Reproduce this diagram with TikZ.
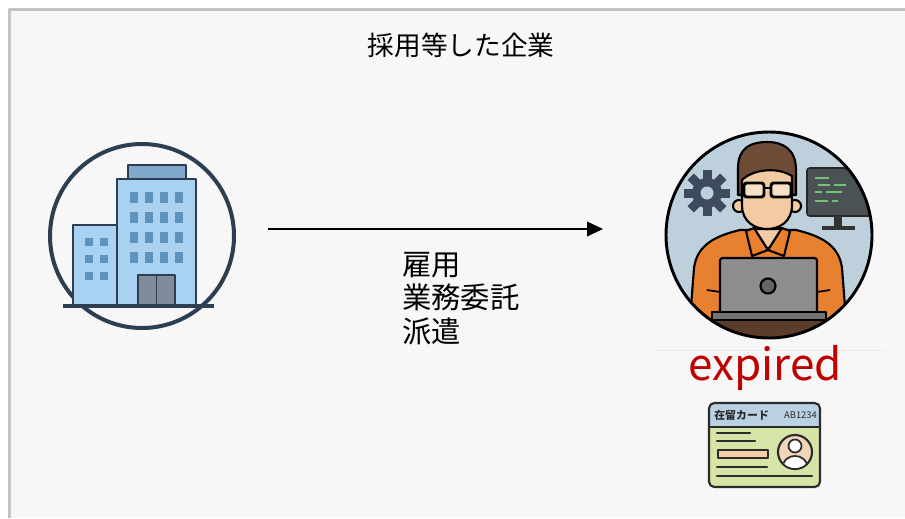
\documentclass[tikz,border=0pt]{standalone}
\usepackage{fontspec}
\setmainfont{Noto Sans CJK JP}
\usetikzlibrary{arrows.meta}
\definecolor{panel}{HTML}{F7F7F7}
\definecolor{rim}{HTML}{C4C4C4}
\definecolor{navy}{HTML}{2C3E50}
\definecolor{towerblue}{HTML}{A9D1F2}
\definecolor{winblue}{HTML}{5E93BD}
\definecolor{capblue}{HTML}{7FA8CB}
\definecolor{doorgray}{HTML}{7F8C99}
\definecolor{sky}{HTML}{BDD0DB}
\definecolor{slate}{HTML}{3E4B5E}
\definecolor{screen}{HTML}{4A5256}
\definecolor{code}{HTML}{74C17A}
\definecolor{hair}{HTML}{6E4B36}
\definecolor{skin}{HTML}{F3CBA3}
\definecolor{shirt}{HTML}{E7812F}
\definecolor{laptop}{HTML}{8D8D8D}
\definecolor{desk}{HTML}{5C3C2B}
\definecolor{alert}{HTML}{C00000}
\definecolor{cardgreen}{HTML}{D6E4A8}
\definecolor{cardblue}{HTML}{BAD1E3}
\definecolor{photo}{HTML}{F1D6BA}
\definecolor{ink}{HTML}{2B2B2B}

\begin{document}
\begin{tikzpicture}[x=0.75pt,y=-0.75pt,line join=round,
    outline/.style={draw=navy,line width=1.6pt},
    window/.style={fill=winblue},
    stroke/.style={draw=black,line width=1.6pt},
    cardline/.style={draw=ink,line width=1.6pt,line cap=round}]
  \useasboundingbox (0,0) rectangle (905,518);
  \fill[white] (0,0) rectangle (905,518);
  \fill[panel] (10,10) rectangle (905,518);
  \draw[rim,line width=2.2pt] (9.5,518) -- (9.5,9.5) -- (905,9.5);

  \node (title) at (461,45) {\fontsize{20}{24}\selectfont 採用等した企業};

  % company: two office blocks inside a ring
  \node[circle,draw=navy,line width=3pt,minimum size=138pt,inner sep=0] (company) at (142,236) {};
  \filldraw[fill=towerblue,outline] (73,225) rectangle (117,306);
  \filldraw[fill=towerblue,outline] (117,179) rectangle (196,306);
  \filldraw[fill=capblue,outline] (128,165) rectangle (186,179);
  \foreach \x in {130,145,160,175}
    \foreach \y in {192,212,232,252}
      \fill[window] (\x,\y) rectangle +(8,11);
  \foreach \x in {85,100}
    \foreach \y in {238,255,272}
      \fill[window] (\x,\y) rectangle +(8,8);
  \filldraw[fill=doorgray,outline] (138,275) rectangle (175,306);
  \draw[navy,line width=1.2pt] (156.5,275) -- (156.5,306);
  \draw[navy,line width=3pt] (63,306) -- (214,306);

  % relation
  \coordinate (from) at (268,229);
  \coordinate (to) at (603,229);
  \draw[line width=1.1pt,-{Triangle[length=12pt,width=11pt]}] (from) -- (to);
  \node[anchor=base west,align=left,inner sep=0,
    font=\fontsize{22}{25}\selectfont] (modes) at (402,342) {雇用\\業務委託\\派遣};

  % worker at a laptop
  \node[circle,fill=sky,minimum size=156pt,inner sep=0] (worker) at (769,235) {};
  \begin{scope}
    \clip (769,235) circle (103);
    % gear
    \fill[slate] (707,193) circle (15);
    \foreach \a in {0,45,...,315}
      \fill[slate,rotate around={\a:(707,193)}] (702.5,170) rectangle (711.5,180);
    \fill[sky] (707,193) circle (6.5);
    % monitor
    \filldraw[fill=screen,draw=black!85,line width=1.2pt,rounded corners=2] (807,168) rectangle (872,216);
    \fill[black!80] (834,216) rectangle (842,226);
    \fill[black!80] (822,226) rectangle (855,230);
    \draw[code,line width=1.3pt] (815,178) -- (829,178) (818,185) -- (830,185) (834,185) -- (846,185)
      (815,192) -- (822,192) (826,192) -- (842,192) (815,201) -- (828,201) (832,201) -- (838,201);
    % body
    \filldraw[fill=shirt,stroke] (688,345) -- (694,268) .. controls (697,245) and (715,236) .. (740,230)
      -- (796,230) .. controls (821,236) and (839,245) .. (842,268) -- (848,345) -- cycle;
    \filldraw[fill=skin,stroke] (756,212) rectangle (780,240);
    \filldraw[fill=skin,stroke] (754,229) -- (768,250) -- (782,229) -- cycle;
    \filldraw[fill=shirt,stroke] (746,231) -- (754,228) -- (768,250) -- (752,256) -- cycle;
    \filldraw[fill=shirt,stroke] (790,231) -- (782,228) -- (768,250) -- (784,256) -- cycle;
    % head
    \filldraw[fill=hair,stroke] (738,195) -- (738,168) .. controls (738,147) and (752,142) .. (767,142)
      .. controls (784,142) and (796,150) .. (796,170) -- (796,195) -- cycle;
    \filldraw[fill=skin,stroke] (739,206) circle (6);
    \filldraw[fill=skin,stroke] (795,206) circle (6);
    \filldraw[fill=skin,stroke] (742,180) .. controls (752,170) and (776,166) .. (792,176) -- (792,205)
      .. controls (792,222) and (779,229) .. (767,229) .. controls (755,229) and (742,222) .. (742,205) -- cycle;
    \draw[black,line width=2.2pt,fill=skin!60!white,rounded corners=2] (744,183) rectangle (764,197);
    \draw[black,line width=2.2pt,fill=skin!60!white,rounded corners=2] (771,183) rectangle (791,197);
    \draw[black,line width=2.2pt] (764,188) -- (771,188);
    % laptop and desk
    \draw[line width=1.3pt] (707,290) -- (720,292) (817,292) -- (830,290);
    \filldraw[fill=laptop,stroke,rounded corners=2] (720,258) rectangle (817,313);
    \filldraw[fill=black!60,stroke] (768,286) circle (7.5);
    \filldraw[fill=black!55,draw=black,line width=1.2pt] (712,312) rectangle (826,320);
    \filldraw[fill=desk,stroke] (650,320) rectangle (890,350);
  \end{scope}
  \draw[black,line width=2.2pt] (worker.center) circle (103);
  \draw[black!7,line width=0.6pt] (655,350) -- (885,350);

  \node[text=alert,anchor=base,font=\fontsize{33}{36}\selectfont] (status) at (765,380) {expired};

  % residence card
  \fill[cardgreen,rounded corners=4] (709,403) rectangle (820,487);
  \begin{scope}
    \clip[rounded corners=4] (709,403) rectangle (820,487);
    \fill[cardblue] (709,403) rectangle (820,427);
  \end{scope}
  \draw[ink,line width=1.2pt] (709,427) -- (820,427);
  \draw[ink,line width=1.6pt,rounded corners=4] (709,403) rectangle (820,487);
  \node[anchor=west,inner sep=0,text=ink,font=\bfseries\fontsize{8.2}{9}\selectfont] (cardtitle) at (714,415) {在留カード};
  \node[anchor=east,inner sep=0,text=ink,font=\fontsize{7}{8}\selectfont] (cardno) at (817,415) {AB1234};
  \draw[cardline] (717,433) -- (750,433) (717,441) -- (755,441) (717,467) -- (767,467) (717,476) -- (812,476);
  \filldraw[fill=photo!90!orange,draw=ink,line width=1.4pt] (718,450) rectangle (768,458);
  \filldraw[fill=photo,draw=ink,line width=1.6pt] (795,452) circle (17);
  \begin{scope}
    \clip (795,452) circle (16);
    \filldraw[fill=white,draw=ink,line width=1.3pt] (782,470) .. controls (783,459) and (789,456) .. (795,456)
      .. controls (801,456) and (807,459) .. (808,470) -- cycle;
  \end{scope}
  \filldraw[fill=white,draw=ink,line width=1.3pt] (795,446) circle (6.5);
\end{tikzpicture}
\end{document}
